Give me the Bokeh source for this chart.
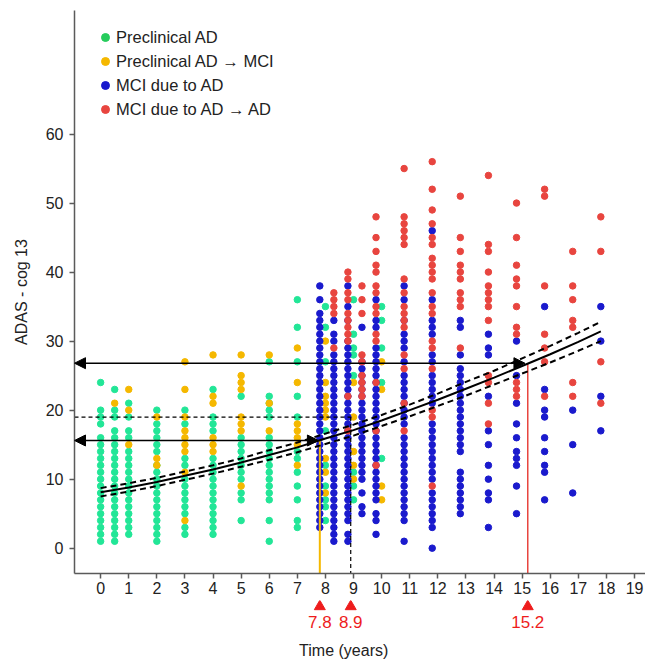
from bokeh.plotting import figure
from bokeh.models import Range1d, Arrow, NormalHead, Legend, LegendItem, FixedTicker
from bokeh.layouts import column
from bokeh.embed import file_html
from bokeh.resources import INLINE
from bokeh.core.properties import value

FONT = "Liberation Sans"

# ---------------- data ----------------
pre_times = [0, 0.5, 1, 2, 3, 4, 5, 6, 7, 8, 9, 10]
pre_scores = [
    [24, 20, 19, 18, 16, 15, 14, 13, 12, 11, 10, 9, 8, 7, 6, 5, 4, 3, 2, 1],
    [23, 20, 19, 17, 16, 15, 14, 13, 12, 11, 10, 9, 8, 7, 6, 5, 4, 3, 2, 1],
    [21, 19, 17, 16, 14, 13, 12, 11, 10, 9, 8, 7, 6, 5, 4, 3, 2],
    [20, 18, 17, 16, 15, 14, 12, 11, 10, 9, 8, 7, 6, 5, 4, 3, 2, 1],
    [20, 18, 13, 12, 10, 9, 8, 7, 6, 5, 3, 2],
    [23, 19, 18, 17, 13, 12, 11, 10, 9, 8, 7, 6, 5, 4, 3, 2],
    [22, 16, 15, 14, 13, 12, 11, 10, 8, 7, 4],
    [27, 22, 21, 20, 19, 16, 15, 14, 13, 12, 11, 10, 9, 8, 7, 4, 1],
    [36, 32, 27, 22, 19, 14, 13, 11, 9, 7, 4, 3],
    [35, 32, 27, 17, 12, 9, 7, 6, 4],
    [36, 31, 29, 28, 25, 11, 9, 7],
    [35, 33, 29, 24, 13],
]

conv_times = [0.5, 1, 2, 3, 4, 5, 6, 7, 8, 9, 10]
conv_scores = [
    [21],
    [23, 20, 15],
    [19, 13, 12],
    [27, 23, 19, 17, 16, 15, 14, 11, 4],
    [28, 22, 21, 16, 15, 14],
    [28, 25, 24, 23, 19, 18, 17, 9],
    [28, 21, 17],
    [29, 24, 18, 17, 16, 15, 12],
    [30, 24, 22, 21, 20, 19, 13, 11, 8],
    [24, 19, 14, 12, 10],
    [27, 23, 9, 7],
]

mci_times = [7.8, 8.3, 8.8, 9.3, 9.8, 10.8, 11.8, 12.8, 13.8, 14.8, 15.8, 16.8, 17.8]
mci_scores = [
    [38, 36, 34, 33, 32, 31, 30, 29, 28, 27, 26, 25, 24, 23, 22, 21, 20, 19, 18, 17,
     16, 15, 14, 13, 12, 11, 10, 9, 8, 7, 6, 5, 4, 3],
    [33, 31, 30, 28, 27, 26, 25, 24, 23, 22, 21, 20, 19, 18, 17, 16, 15, 14, 13, 12,
     11, 10, 9, 8, 7, 6, 5, 4, 3, 2, 1],
    [38, 35, 33, 30, 29, 28, 27, 26, 25, 24, 23, 22, 21, 20, 19, 18, 17, 16, 15, 14,
     13, 12, 11, 10, 9, 8, 7, 6, 5, 4, 2, 1],
    [32, 27, 26, 25, 24, 23, 22, 21, 20, 19, 18, 17, 16, 15, 14, 13, 12, 11, 10, 8, 6, 5],
    [36, 33, 32, 29, 28, 27, 26, 25, 24, 23, 22, 21, 20, 19, 18, 17, 16, 15, 14, 13,
     12, 11, 10, 9, 8, 7, 5, 4, 2],
    [38, 36, 33, 31, 30, 29, 27, 25, 24, 23, 22, 21, 20, 19, 18, 16, 15, 14, 13, 12,
     11, 10, 9, 8, 7, 6, 5, 4, 1],
    [46, 36, 33, 32, 31, 28, 27, 25, 24, 23, 22, 21, 18, 17, 16, 15, 14, 13, 12, 11,
     10, 8, 7, 6, 5, 4, 3, 0],
    [33, 32, 28, 26, 25, 24, 23, 22, 21, 20, 19, 18, 17, 16, 15, 14, 11, 10, 9, 8, 7, 6, 5],
    [31, 29, 28, 22, 17, 15, 12, 10, 8, 7, 3],
    [30, 25, 21, 18, 16, 14, 13, 12, 9, 5],
    [35, 23, 20, 19, 16, 14, 12, 11, 7],
    [20, 15, 8],
    [35, 30, 22, 17],
]

prog_times = [8.3, 8.8, 9.3, 9.8, 10.8, 11.8, 12.8, 13.8, 14.8, 15.8, 16.8, 17.8]
prog_scores = [
    [37, 36, 35, 34, 29],
    [40, 39, 37, 36, 34, 33, 32, 31, 30, 22, 17],
    [38, 36, 34, 28, 27, 25, 24, 23, 22],
    [48, 45, 43, 41, 40, 38, 37, 35, 34, 31, 30, 24, 17, 12],
    [55, 48, 47, 46, 45, 44, 39, 37, 35, 34, 33, 32, 28, 26, 21, 17],
    [56, 52, 49, 47, 45, 44, 42, 41, 40, 39, 37, 35, 34, 30, 29, 26, 20, 19, 9],
    [51, 45, 43, 41, 40, 39, 37, 36, 35, 29],
    [54, 44, 43, 40, 38, 37, 36, 35, 33, 25, 24, 21, 18],
    [50, 45, 41, 39, 38, 35, 32, 31, 24, 23, 22],
    [52, 51, 38, 31, 29, 27, 22],
    [43, 38, 36, 33, 32, 24, 22],
    [48, 43, 27, 21],
]

group_labels = ["Preclinical AD", "Preclinical AD \u2192 MCI",
                "MCI due to AD", "MCI due to AD \u2192 AD"]

# fitted trajectory with its confidence band
fit_t = [0, 1, 2, 3, 4, 5, 6, 7, 8, 9, 10, 11, 12, 13, 14, 15, 16, 17, 17.8]
fit_mean = [8.1, 8.8, 9.6, 10.5, 11.4, 12.4, 13.5, 14.6, 15.9, 17.1, 18.5, 20.0,
            21.5, 23.1, 24.7, 26.4, 28.1, 29.9, 31.4]
fit_upper = [8.7, 9.4, 10.2, 11.1, 12.0, 13.0, 14.2, 15.3, 16.6, 17.9, 19.3, 20.8,
             22.4, 24.1, 25.7, 27.5, 29.3, 31.2, 32.8]
fit_lower = [7.5, 8.2, 9.0, 9.9, 10.8, 11.8, 12.8, 13.9, 15.1, 16.3, 17.7, 19.1,
             20.6, 22.1, 23.7, 25.3, 26.9, 28.6, 30.0]

milestone_times = [7.8, 8.9, 15.2]
milestone_scores = [15.6, 19.0, 26.8]
arrow_tips = [7.75, 15.1]
arrow_scores = [15.6, 26.8]

x_ticks = list(range(0, 20))
y_ticks = [0, 10, 20, 30, 40, 50, 60]

C_GREEN = "#22e697"
C_ORANGE = "#f5b800"
C_BLUE = "#1a1acd"
C_RED = "#e8453f"
C_LEG_GREEN = "#26cc5c"
C_MARK = "#ee1c1c"


def flatten(times, scores):
    xs, ys = [], []
    for t, col in zip(times, scores):
        xs += [t] * len(col)
        ys += col
    return xs, ys


X0, X1 = -0.93, 19.39
Y0, Y1 = -3.67, 77.9

p = figure(width=645, height=600, x_range=Range1d(X0, X1), y_range=Range1d(Y0, Y1),
           min_border_left=74, min_border_right=0, min_border_top=10, min_border_bottom=27,
           output_backend="svg", toolbar_location=None)
p.outline_line_color = None
p.grid.visible = False
p.background_fill_color = "white"

p.xaxis.ticker = FixedTicker(ticks=x_ticks)
p.yaxis.ticker = FixedTicker(ticks=y_ticks)
for ax in (p.xaxis[0], p.yaxis[0]):
    ax.axis_line_color = "#5a5a5a"
    ax.axis_line_width = 1.5
    ax.major_tick_line_color = "#5a5a5a"
    ax.major_tick_line_width = 1.5
    ax.major_tick_out = 5
    ax.major_tick_in = 0
    ax.minor_tick_line_color = None
    ax.major_label_text_font = FONT
    ax.major_label_text_font_size = "16px"
    ax.major_label_text_color = "#222222"
p.xaxis.major_label_standoff = 3
p.yaxis.major_label_standoff = 6
p.yaxis.axis_label = "ADAS - cog 13"
p.yaxis.axis_label_text_font = FONT
p.yaxis.axis_label_text_font_size = "16px"
p.yaxis.axis_label_text_font_style = "normal"
p.yaxis.axis_label_text_color = "#222222"
p.yaxis.axis_label_standoff = 13

# points
xs, ys = flatten(pre_times, pre_scores)
p.scatter(xs, ys, size=6.5, color=C_GREEN)
xs, ys = flatten(conv_times, conv_scores)
p.scatter(xs, ys, size=6.5, color=C_ORANGE)
xs, ys = flatten(mci_times, mci_scores)
p.scatter(xs, ys, size=6.5, color=C_BLUE)
xs, ys = flatten(prog_times, prog_scores)
p.scatter(xs, ys, size=6.5, color=C_RED)

# reference lines
p.segment(x0=[milestone_times[0]], y0=[milestone_scores[0]], x1=[milestone_times[0]], y1=[Y0],
          line_color=C_ORANGE, line_width=2)
p.segment(x0=[milestone_times[2]], y0=[milestone_scores[2]], x1=[milestone_times[2]], y1=[Y0],
          line_color=C_RED, line_width=1.5)
p.segment(x0=[milestone_times[1]], y0=[milestone_scores[1]], x1=[milestone_times[1]], y1=[Y0],
          line_color="black", line_width=1.2, line_dash="4 3")
p.segment(x0=[X0], y0=[milestone_scores[1]], x1=[milestone_times[1]], y1=[milestone_scores[1]],
          line_color="black", line_width=1.2, line_dash="4 3")

# fitted curve
p.line(fit_t, fit_upper, line_color="black", line_width=2, line_dash="6 4")
p.line(fit_t, fit_lower, line_color="black", line_width=2, line_dash="6 4")
p.line(fit_t, fit_mean, line_color="black", line_width=2)

for tip, sc in zip(arrow_tips, arrow_scores):
    p.add_layout(Arrow(
        start=NormalHead(size=11, fill_color="black", line_color="black"),
        end=NormalHead(size=11, fill_color="black", line_color="black"),
        x_start=X0, y_start=sc, x_end=tip, y_end=sc,
        line_color="black", line_width=1.5))

# legend (legend-only renderers hold a single NaN point, so nothing is drawn in the frame)
leg_colors = [C_LEG_GREEN, C_ORANGE, C_BLUE, C_RED]
items = []
for lab, col in zip(group_labels, leg_colors):
    r = p.scatter(x=[float("nan")], y=[float("nan")], size=10, color=col)
    items.append(LegendItem(label=lab, renderers=[r]))
legend = Legend(items=items, location=(21, 454), margin=0, padding=0, spacing=4,
                glyph_width=20, glyph_height=20, label_height=20, label_standoff=1,
                label_text_font=FONT, label_text_font_size="16.5px",
                label_text_color="#222222", border_line_color=None,
                background_fill_alpha=0)
p.add_layout(legend)

# strip under the axis: milestone markers and axis title
m = figure(width=645, height=64, x_range=p.x_range, y_range=Range1d(64, 0),
           min_border_left=74, min_border_right=0, min_border_top=0, min_border_bottom=0,
           x_axis_location=None, y_axis_location=None,
           output_backend="svg", toolbar_location=None)
m.outline_line_color = None
m.grid.visible = False
m.scatter(x=milestone_times, y=[6] * len(milestone_times), marker="triangle", size=11,
          color=C_MARK)
m.text(x=milestone_times, y=[21] * len(milestone_times),
       text=[str(t) for t in milestone_times], text_align="center", text_baseline="middle",
       text_font=value(FONT), text_font_size="17px", text_color=C_MARK)
m.text(x=[8.65], y=[50], text=["Time (years)"], text_align="center", text_baseline="middle",
       text_font=value(FONT), text_font_size="16px", text_color="#222222")

layout = column(p, m, spacing=0)
open("out.html", "w").write(file_html(layout, INLINE))
